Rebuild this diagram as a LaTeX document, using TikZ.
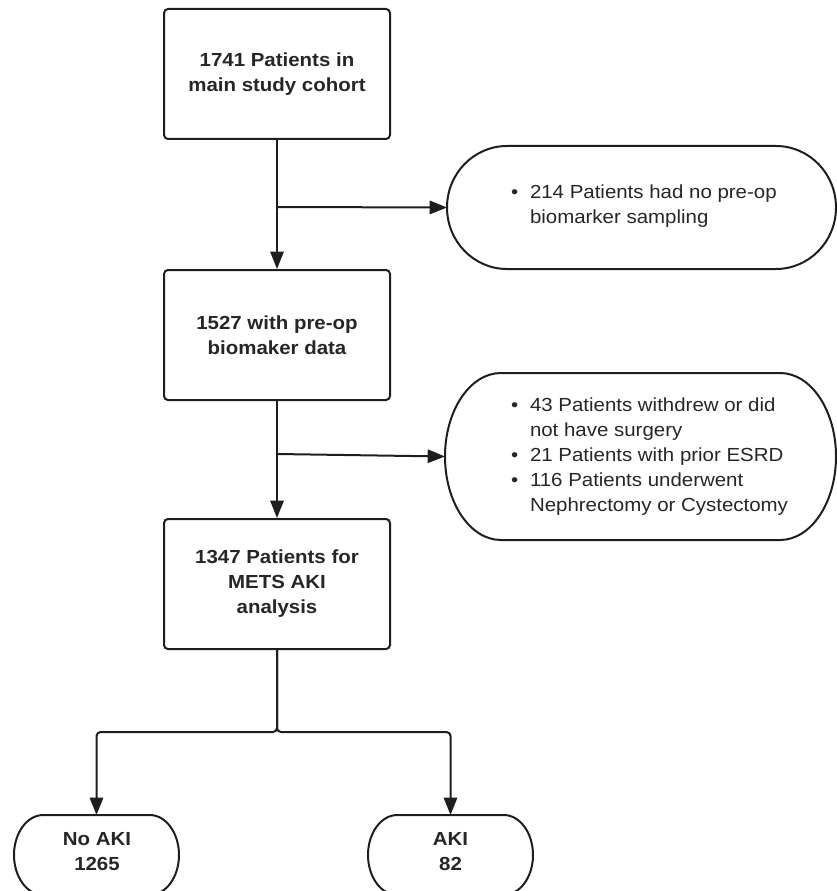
\documentclass[tikz,border=0pt]{standalone}
\usepackage{fontspec}
\setmainfont{Liberation Sans}[FakeStretch=1.08]
\usetikzlibrary{arrows.meta}
\definecolor{ink}{HTML}{1E1E1E}
\definecolor{txt}{HTML}{262626}
\newcommand{\bl}{\makebox[14.25pt][l]{•}}
\newcommand{\ind}{\hspace*{14.25pt}}
\begin{document}
\begin{tikzpicture}[x=0.75pt,y=-0.75pt,
  line width=1.5pt, draw=ink,
  box/.style={draw=ink, rounded corners=3pt, minimum width=169.5pt, minimum height=97.5pt,
    align=center, font=\fontsize{14.2}{18.75}\selectfont\bfseries, text=txt, inner sep=0pt},
  frame/.style={inner sep=0pt, outer sep=0pt},
  note/.style={align=left, font=\fontsize{14.2}{18.75}\selectfont, text=txt, inner sep=0pt},
  leaf/.style={align=center, font=\fontsize{14.2}{18.75}\selectfont\bfseries, text=txt, inner sep=0pt},
  arr/.style={-{Triangle[length=13pt,width=10pt]}, draw=ink}
]
\useasboundingbox (0,0) rectangle (837,891);
\clip (0,0) rectangle (837,891);

% main boxes
\node[box] (b1) at (277,74) {1741 Patients in\\main study cohort};
\node[box] (b2) at (277,335) {1527 with pre-op\\biomaker data};
\node[box] (b3) at (277,584) {1347 Patients for\\METS AKI\\analysis};

% exclusion ovals
\node[frame, minimum width=291.75pt, minimum height=92.25pt] (e1) at (641.5,207.5) {};
\draw ([xshift=45pt]e1.north west) -- ([xshift=-45pt]e1.north east)
  arc[start angle=90,end angle=-90,x radius=45pt,y radius=46.125pt]
  -- ([xshift=45pt]e1.south west)
  arc[start angle=270,end angle=90,x radius=45pt,y radius=46.125pt] -- cycle;
\node[note, anchor=west] (t1) at (510,206) {\bl 214 Patients had no pre-op\\\ind biomarker sampling};

\node[frame, minimum width=293.25pt, minimum height=125.25pt] (e2) at (640.5,456.5) {};
\draw ([xshift=42pt]e2.north west) -- ([xshift=-42pt]e2.north east)
  arc[start angle=90,end angle=-90,x radius=42pt,y radius=62.625pt]
  -- ([xshift=42pt]e2.south west)
  arc[start angle=270,end angle=90,x radius=42pt,y radius=62.625pt] -- cycle;
\node[note, anchor=west] (t2) at (510,457) {\bl 43 Patients withdrew or did\\\ind not have surgery\\\bl 21 Patients with prior ESRD\\\bl 116 Patients underwent\\\ind Nephrectomy or Cystectomy};

% outcome nodes (clipped at bottom)
\node[frame, minimum width=123.75pt, minimum height=60pt] (n1) at (96.5,855) {};
\draw ([xshift=22pt]n1.north west) -- ([xshift=-22pt]n1.north east)
  arc[start angle=90,end angle=-90,x radius=22pt,y radius=30pt]
  -- ([xshift=22pt]n1.south west)
  arc[start angle=270,end angle=90,x radius=22pt,y radius=30pt] -- cycle;
\node[leaf] (l1) at (97,852) {No AKI\\1265};

\node[frame, minimum width=123.75pt, minimum height=60pt] (n2) at (450.5,855) {};
\draw ([xshift=22pt]n2.north west) -- ([xshift=-22pt]n2.north east)
  arc[start angle=90,end angle=-90,x radius=22pt,y radius=30pt]
  -- ([xshift=22pt]n2.south west)
  arc[start angle=270,end angle=90,x radius=22pt,y radius=30pt] -- cycle;
\node[leaf] (l2) at (450.5,852) {AKI\\82};

% connectors
\draw[arr] (b1.south) -- (b2.north);
\coordinate (j1) at (277,207);
\draw[arr] (j1) -- (e1.west);
\draw[arr] (b2.south) -- (b3.north);
\coordinate (j2) at (277,454);
\draw[arr] (j2) -- (e2.west);
\coordinate (br) at (277,732);
\draw[arr, rounded corners=3pt] (b3.south) -- (br) -| (n1.north);
\draw[arr, rounded corners=3pt] (b3.south) -- (br) -| (n2.north);
\end{tikzpicture}
\end{document}
